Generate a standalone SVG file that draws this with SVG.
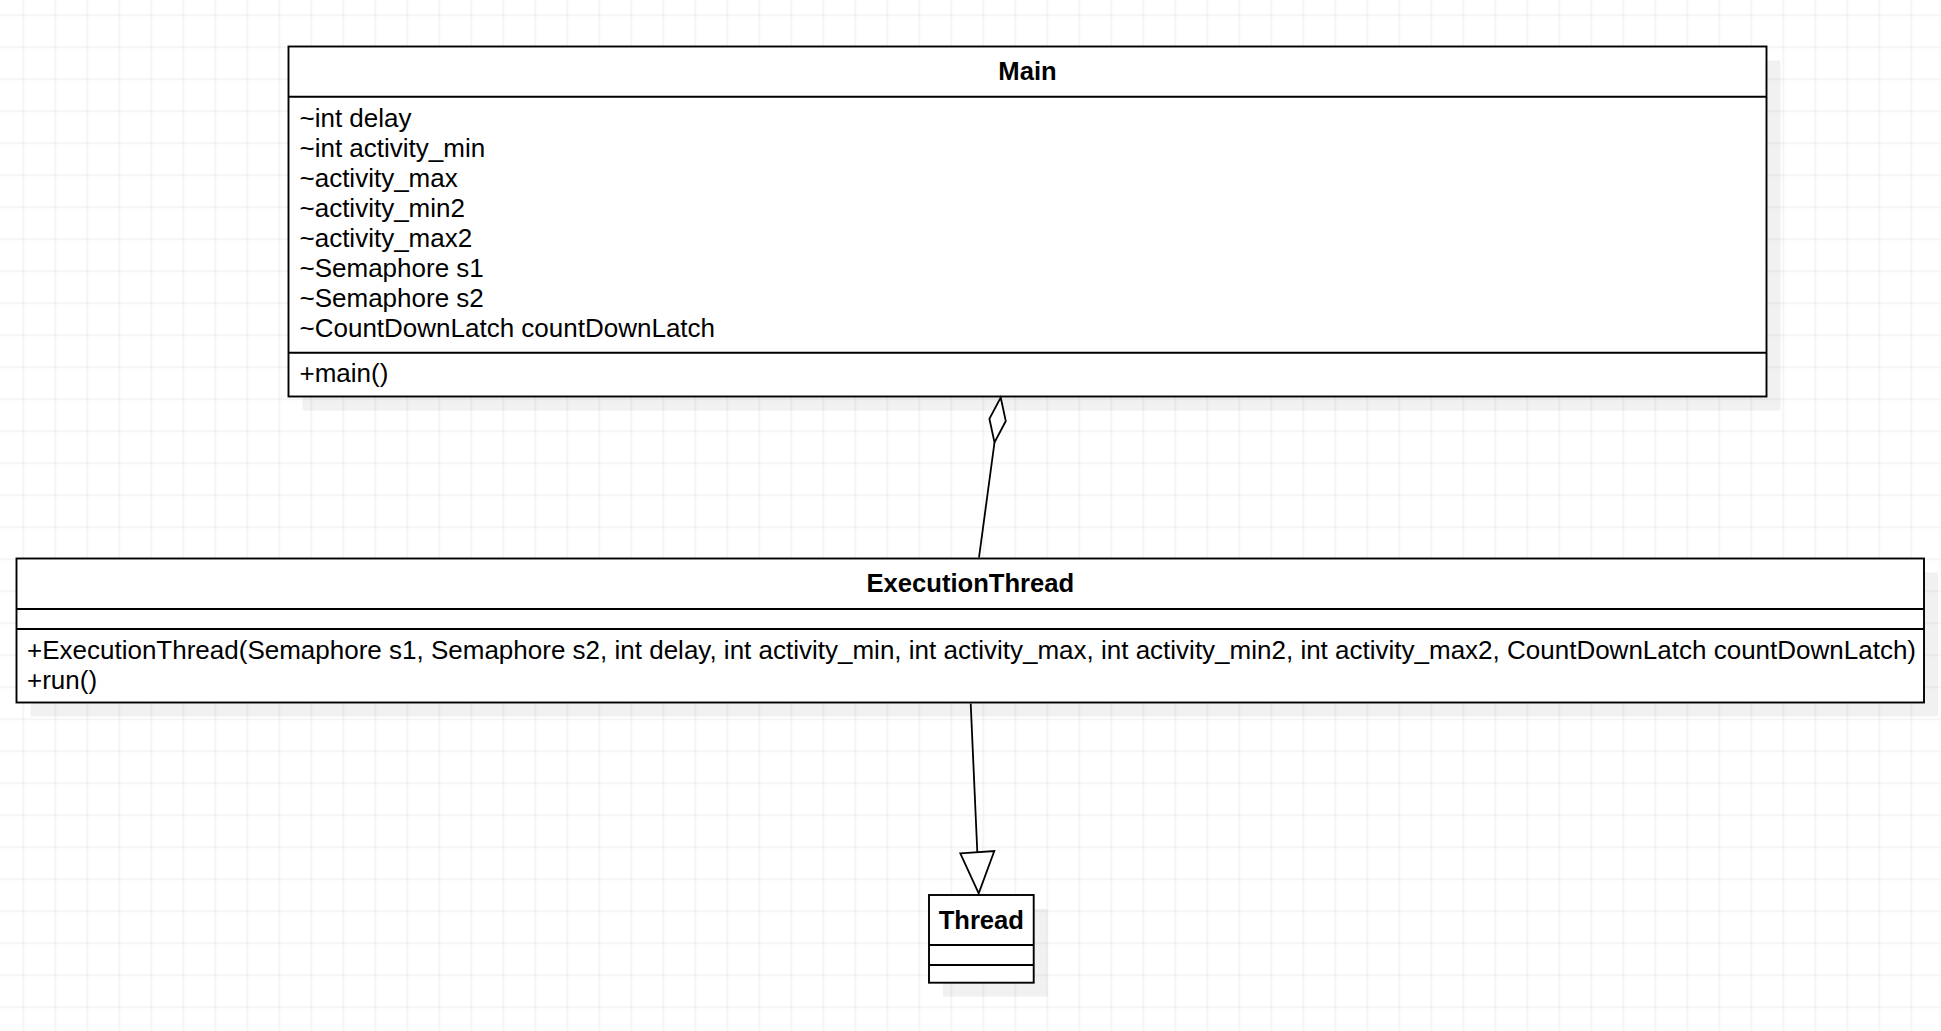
<svg xmlns="http://www.w3.org/2000/svg" width="1941" height="1031" viewBox="0 0 1941 1031">
  <defs>
    <pattern id="grid" x="7.3" y="-0.7" width="32" height="32" patternUnits="userSpaceOnUse">
      <path d="M16 0 V32 M0 16 H32" stroke="#ebebeb" stroke-width="1" fill="none"/>
    </pattern>
  </defs>
  <style>
    .box { fill: #ffffff; stroke: #000000; stroke-width: 1.9; }
    .sep { stroke: #000000; stroke-width: 1.9; fill: none; }
    .shadow { fill: #000000; fill-opacity: 0.055; stroke: none; }
    .title { font-family: "Liberation Sans", Arial, sans-serif; font-size: 25.6px; font-weight: bold; fill: #000000; text-anchor: middle; }
    .member { font-family: "Liberation Sans", Arial, sans-serif; font-size: 26px; fill: #000000; }
    .edge { stroke: #000000; stroke-width: 1.8; fill: none; }
    .head { stroke: #000000; stroke-width: 1.8; fill: #ffffff; stroke-linejoin: miter; }
  </style>
  <rect x="0" y="0" width="1941" height="1031" fill="#ffffff"/>
  <rect x="0" y="0" width="1941" height="1031" fill="url(#grid)"/>

  <g id="Main">
    <rect class="shadow" x="302.5" y="60.5" width="1478" height="350"/>
    <rect class="box" x="288.5" y="46.5" width="1478" height="350"/>
    <line class="sep" x1="288.5" y1="96.7" x2="1766.5" y2="96.7"/>
    <line class="sep" x1="288.5" y1="352.7" x2="1766.5" y2="352.7"/>
    <text class="title" x="1027.5" y="80">Main</text>
    <text class="member" x="299.5" y="127">~int delay</text>
    <text class="member" x="299.5" y="157">~int activity_min</text>
    <text class="member" x="299.5" y="187">~activity_max</text>
    <text class="member" x="299.5" y="217">~activity_min2</text>
    <text class="member" x="299.5" y="247">~activity_max2</text>
    <text class="member" x="299.5" y="277">~Semaphore s1</text>
    <text class="member" x="299.5" y="307">~Semaphore s2</text>
    <text class="member" x="299.5" y="337">~CountDownLatch countDownLatch</text>
    <text class="member" x="299.5" y="382">+main()</text>
  </g>

  <g id="ExecutionThread">
    <rect class="shadow" x="30.5" y="572.5" width="1907.5" height="144"/>
    <rect class="box" x="16.5" y="558.5" width="1907.5" height="144"/>
    <line class="sep" x1="16.5" y1="609" x2="1924" y2="609"/>
    <line class="sep" x1="16.5" y1="629" x2="1924" y2="629"/>
    <text class="title" x="970.3" y="592">ExecutionThread</text>
    <text class="member" x="27" y="658.5">+ExecutionThread(Semaphore s1, Semaphore s2, int delay, int activity_min, int activity_max, int activity_min2, int activity_max2, CountDownLatch countDownLatch)</text>
    <text class="member" x="27" y="688.5">+run()</text>
  </g>

  <g id="Thread">
    <rect class="shadow" x="943" y="909" width="104.7" height="87.7"/>
    <rect class="box" x="929" y="895" width="104.7" height="87.7"/>
    <line class="sep" x1="929" y1="945" x2="1033.7" y2="945"/>
    <line class="sep" x1="929" y1="965" x2="1033.7" y2="965"/>
    <text class="title" x="981.3" y="928.5">Thread</text>
  </g>

  <g id="connectors">
    <g id="edge-aggregation">
      <line class="edge" x1="994.5" y1="442.5" x2="979" y2="557.5"/>
      <polygon class="head" points="1000.7,397.5 1005.8,421 994.5,442.5 989.4,418.8"/>
    </g>
    <g id="edge-generalization">
      <line class="edge" x1="970.7" y1="703.5" x2="977.3" y2="852"/>
      <polygon class="head" points="960.3,853.3 994.3,851 978.7,893.3"/>
    </g>
  </g>
</svg>
